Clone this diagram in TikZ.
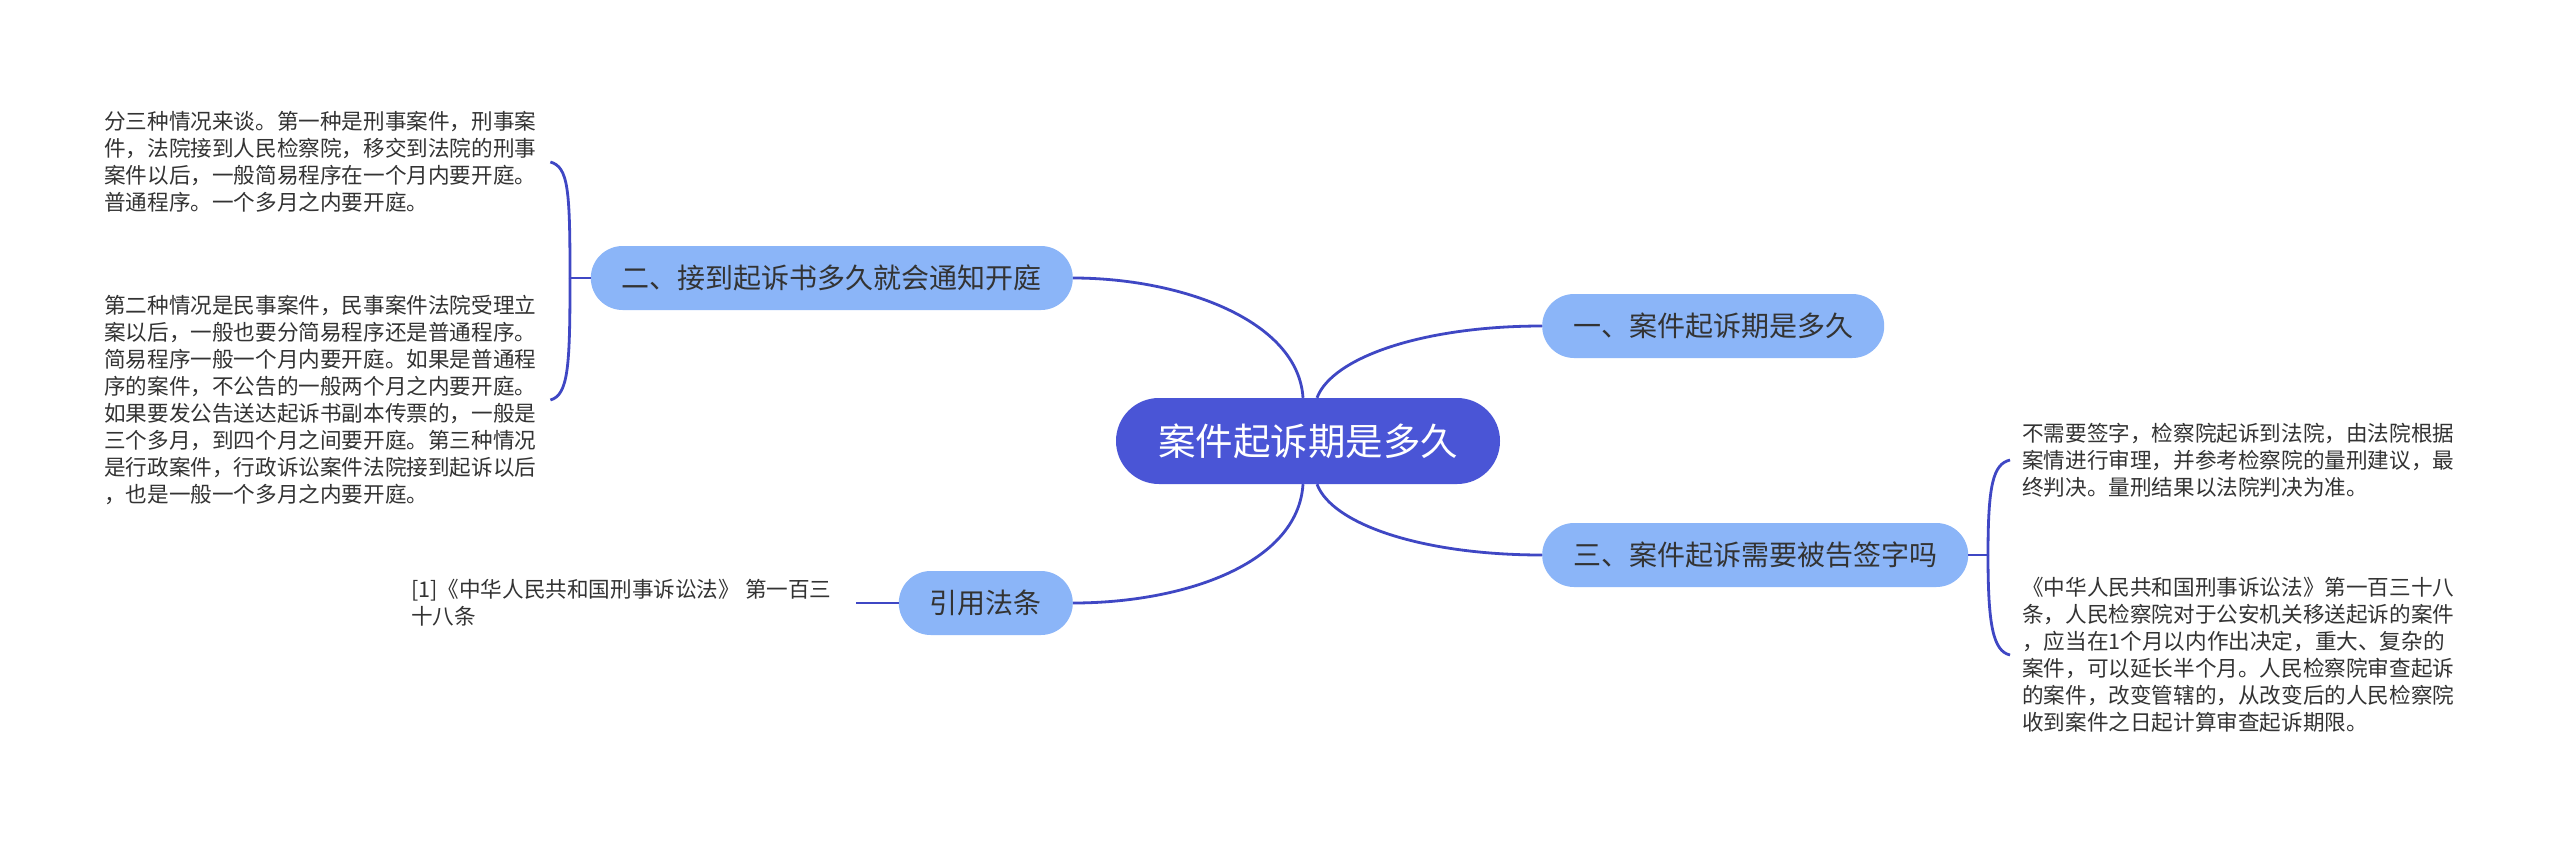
\documentclass[tikz,border=0pt]{standalone}
\usepackage{fontspec}
\setmainfont{Noto Sans CJK SC}
\definecolor{rootblue}{HTML}{4A55D6}
\definecolor{topicblue}{HTML}{8BB5F8}
\definecolor{linkblue}{HTML}{3F47C4}
\definecolor{inkgray}{HTML}{333333}
\begin{document}
\begin{tikzpicture}[x=1pt,y=-1pt,
  every node/.style={inner sep=0pt},
  rootnode/.style={fill=rootblue, text=white, rounded corners=42.9pt, minimum height=86pt, inner xsep=42pt, font=\fontsize{37.5}{40}\selectfont},
  topicnode/.style={fill=topicblue, text=inkgray, rounded corners=31.9pt, minimum height=64pt, inner xsep=31pt, font=\fontsize{28}{30}\selectfont},
  notetext/.style={text=inkgray, align=left, font=\fontsize{21.6}{27}\selectfont},
  link/.style={draw=linkblue, line width=2.8pt}]
  \fill[white] (0,0) rectangle (2560,841);
  \useasboundingbox (0,0) rectangle (2560,841);
  \node[rootnode] (root) at (1308,441) {案件起诉期是多久};
  \node[topicnode, anchor=west] (t1) at (1542,326) {一、案件起诉期是多久};
  \node[topicnode, anchor=east] (t2) at (1073,278) {二、接到起诉书多久就会通知开庭};
  \node[topicnode, anchor=west] (t3) at (1542,555) {三、案件起诉需要被告签字吗};
  \node[topicnode, anchor=east] (t4) at (1073,603) {引用法条};
  \node[notetext, anchor=west] (n21) at (104,162) {分三种情况来谈。第一种是刑事案件，刑事案\\件，法院接到人民检察院，移交到法院的刑事\\案件以后，一般简易程序在一个月内要开庭。\\普通程序。一个多月之内要开庭。};
  \node[notetext, anchor=west] (n22) at (104,400) {第二种情况是民事案件，民事案件法院受理立\\案以后，一般也要分简易程序还是普通程序。\\简易程序一般一个月内要开庭。如果是普通程\\序的案件，不公告的一般两个月之内要开庭。\\如果要发公告送达起诉书副本传票的，一般是\\三个多月，到四个月之间要开庭。第三种情况\\是行政案件，行政诉讼案件法院接到起诉以后\\，也是一般一个多月之内要开庭。};
  \node[notetext, anchor=west] (n31) at (2022,460) {不需要签字，检察院起诉到法院，由法院根据\\案情进行审理，并参考检察院的量刑建议，最\\终判决。量刑结果以法院判决为准。};
  \node[notetext, anchor=west] (n32) at (2022,655) {《中华人民共和国刑事诉讼法》第一百三十八\\条，人民检察院对于公安机关移送起诉的案件\\，应当在1个月以内作出决定，重大、复杂的\\案件，可以延长半个月。人民检察院审查起诉\\的案件，改变管辖的，从改变后的人民检察院\\收到案件之日起计算审查起诉期限。};
  \node[notetext, anchor=west] (n41) at (411,603) {[1]《中华人民共和国刑事诉讼法》 第一百三\\十八条};
  \coordinate (j2) at (570,278);
  \coordinate (j3) at (1988,555);
  \coordinate (r4) at (856,603);
  \draw[link] ([xshift=-5pt]root.north) .. controls +(-5,-78) and +(107,0) .. (t2.east);
  \draw[link] ([xshift=9pt]root.north) .. controls +(15,-40) and +(-120,0) .. (t1.west);
  \draw[link] ([xshift=9pt]root.south) .. controls +(15,40) and +(-120,0) .. (t3.west);
  \draw[link] ([xshift=-5pt]root.south) .. controls +(-5,80) and +(110,0) .. (t4.east);
  \draw[link] (t2.west) -- (j2);
  \draw[link] (j2) .. controls +(0,-88) and +(18,5) .. ([xshift=14pt]n21.east);
  \draw[link] (j2) .. controls +(0,88) and +(18,-5) .. ([xshift=14pt]n22.east);
  \draw[link] (t3.east) -- (j3);
  \draw[link] (j3) .. controls +(0,-70) and +(-17,4) .. ([xshift=-12pt]n31.west);
  \draw[link] (j3) .. controls +(0,70) and +(-17,-4) .. ([xshift=-12pt]n32.west);
  \draw[link] (t4.west) -- (r4);
\end{tikzpicture}
\end{document}
